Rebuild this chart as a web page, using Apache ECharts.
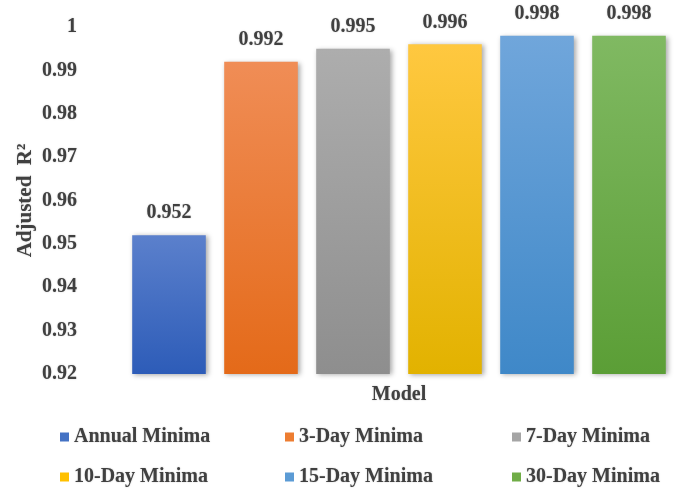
<!DOCTYPE html>
<html>
<head>
<meta charset="utf-8">
<script src="https://cdn.jsdelivr.net/npm/echarts@6/dist/echarts.min.js"></script>
<style>
  html, body { margin: 0; padding: 0; background: #ffffff; }
  #chart { width: 681px; height: 489px; }
</style>
</head>
<body>
<div id="chart"></div>
<script>
// Model names (one bar each) and their adjusted R² values
const models = ['Annual Minima', '3-Day Minima', '7-Day Minima', '10-Day Minima', '15-Day Minima', '30-Day Minima'];
const adjustedR2 = [0.952, 0.992, 0.995, 0.996, 0.998, 0.998];

// Gradient stops per bar: lighter top, deeper bottom, plus a flat legend swatch
const topColors = ['#5b80cc', '#f08d56', '#adadad', '#ffc840', '#70a6db', '#80b962'];
const bottomColors = ['#2d5cb8', '#e46a19', '#8e8e8e', '#e2b200', '#3f88c8', '#5b9e36'];
const swatchColors = ['#4472c4', '#ed7d31', '#a5a5a5', '#ffc000', '#5b9bd5', '#70ad47'];

// Y axis range
const yMin = 0.92, yMax = 1, yStep = 0.01;

const textColor = '#404040';
const serif = '"Liberation Serif", "Times New Roman", serif';
const textBase = {
  color: textColor,
  fontFamily: serif,
  fontWeight: 'bold',
  textShadowColor: 'rgba(64,64,64,0.35)',
  textShadowBlur: 1.5
};

const chart = echarts.init(document.getElementById('chart'), null, { renderer: 'canvas' });

// One series per model so each gets a legend entry; a shared stack keeps bars centred
const series = models.map((name, i) => ({
  name: name,
  type: 'bar',
  stack: 'models',
  barWidth: '80%',
  data: models.map((m, j) => (j === i ? adjustedR2[i] : null)),
  itemStyle: {
    color: new echarts.graphic.LinearGradient(0, 0, 0, 1, [
      { offset: 0, color: topColors[i] },
      { offset: 1, color: bottomColors[i] }
    ]),
    shadowColor: 'rgba(0,0,0,0.35)',
    shadowBlur: 5,
    shadowOffsetX: 2,
    shadowOffsetY: 1
  },
  label: Object.assign({
    show: true,
    position: 'top',
    distance: 12,
    fontSize: 20,
    formatter: (p) => p.value
  }, textBase)
}));

// Legend laid out as a 3 x 2 grid
const legendCols = [60, 285, 512];
const legendRows = [427, 467];
const legends = models.map((name, i) => ({
  data: [{ name: name, itemStyle: { color: swatchColors[i] } }],
  left: legendCols[i % 3],
  top: legendRows[Math.floor(i / 3)],
  orient: 'horizontal',
  icon: 'rect',
  itemWidth: 9,
  itemHeight: 9,
  itemGap: 0,
  padding: 0,
  textStyle: Object.assign({ fontSize: 20 }, textBase),
  selectedMode: false
}));

chart.setOption({
  backgroundColor: '#ffffff',
  animation: false,
  grid: { left: 123, right: 6, top: 27, bottom: 115 },
  xAxis: {
    type: 'category',
    data: models,
    name: 'Model',
    nameLocation: 'middle',
    nameGap: 11,
    nameTextStyle: Object.assign({ fontSize: 20, verticalAlign: 'top' }, textBase),
    axisLine: { show: false },
    axisTick: { show: false },
    axisLabel: { show: false },
    splitLine: { show: false }
  },
  yAxis: {
    type: 'value',
    min: yMin,
    max: yMax,
    interval: yStep,
    name: 'Adjusted  R²',
    nameLocation: 'middle',
    nameGap: 87,
    nameMoveOverlap: false,
    nameTextStyle: Object.assign({ fontSize: 21 }, textBase),
    axisLine: { show: false },
    axisTick: { show: false },
    splitLine: { show: false },
    axisLabel: Object.assign({
      margin: 46,
      fontSize: 20,
      formatter: (v) => String(parseFloat(v.toFixed(2)))
    }, textBase)
  },
  legend: legends,
  series: series
});
</script>
</body>
</html>
